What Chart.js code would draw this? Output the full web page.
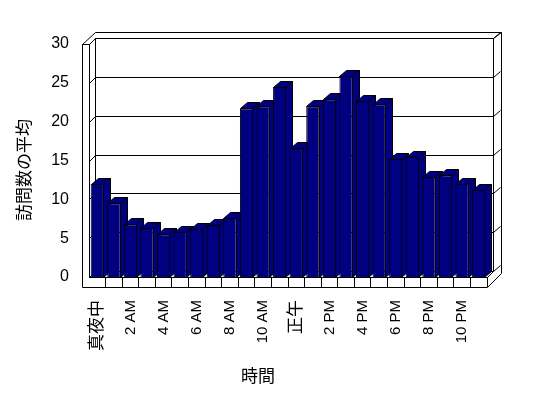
<!DOCTYPE html>
<html><head><meta charset="utf-8">
<script src="https://cdn.jsdelivr.net/npm/chart.js@4/dist/chart.umd.min.js"></script>
<style>html,body{margin:0;padding:0;background:#fff}canvas{display:block}</style>
</head><body>
<canvas id="c" width="548" height="398"></canvas>
<script>
const categories = ['真夜中','1 AM','2 AM','3 AM','4 AM','5 AM','6 AM','7 AM','8 AM','9 AM','10 AM','11 AM',
  '正午','1 PM','2 PM','3 PM','4 PM','5 PM','6 PM','7 PM','8 PM','9 PM','10 PM','11 PM'];
const visits = [12.0, 9.5, 6.8, 6.3, 5.5, 5.8, 6.2, 6.7, 7.6, 21.7, 22.0, 24.45,
  16.6, 22.0, 22.9, 25.9, 22.65, 22.25, 15.2, 15.45, 12.9, 13.1, 12.0, 11.2];
const yTicks = [0, 5, 10, 15, 20, 25, 30];
const xTitle = '時間';
const yTitle = '訪問数の平均';

const BAR = '#000080';
const LAT = '"Liberation Sans", "Noto Sans CJK JP", sans-serif';
const CJK = '"Noto Sans CJK JP", sans-serif';
const DX = 7, DY = -6;

function px(v){ return Math.round(v) + 0.5; }
function line(ctx, pts){
  ctx.beginPath();
  pts.forEach(([x,y],i)=>{ i ? ctx.lineTo(px(x),px(y)) : ctx.moveTo(px(x),px(y)); });
  ctx.stroke();
}
function poly(ctx, pts){
  ctx.beginPath();
  pts.forEach(([x,y],i)=>{ i ? ctx.lineTo(px(x),px(y)) : ctx.moveTo(px(x),px(y)); });
  ctx.closePath();
  ctx.fill();
  ctx.stroke();
}

const frame3d = {
  id: 'frame3d',
  beforeDatasetsDraw(chart){
    const {ctx, chartArea: ca, scales: {y}} = chart;
    const L = ca.left, R = ca.right, T = ca.top, B = ca.bottom;
    ctx.save();
    ctx.strokeStyle = '#000';
    ctx.lineWidth = 1;
    // gridlines on left wall, back wall and right edge
    yTicks.forEach(v => {
      const yf = y.getPixelForValue(v);
      line(ctx, [[L, yf], [L+6, yf-6], [R+6, yf-6], [R+13, yf-12]]);
    });
    // left wall
    line(ctx, [[L-7, B+10], [L-7, T], [L, T], [L, B]]);
    line(ctx, [[L-7, T], [L+6, T-12], [R+14, T-12], [R+14, B-4]]);
    line(ctx, [[L, T], [L+6, T-6], [L+6, B-6]]);
    line(ctx, [[R+6, T-6], [R+14, T-12]]);
    line(ctx, [[R+6, T-6], [R+6, B-6]]);
    // floor
    line(ctx, [[L-7, B+10], [R, B+10], [R+14, B-4]]);
    line(ctx, [[R, B], [R+6, B-6]]);
    // bar depth faces
    const meta = chart.getDatasetMeta(0);
    ctx.fillStyle = BAR;
    meta.data.forEach(bar => {
      const p = bar.getProps(['x','y','base','width'], true);
      const l = p.x - p.width/2, r = p.x + p.width/2 - 1;
      poly(ctx, [[l, p.y], [l+DX, p.y+DY], [r+DX, p.y+DY], [r, p.y]]);
      poly(ctx, [[r, p.y], [r+DX, p.y+DY], [r+DX, p.base+DY], [r, p.base]]);
    });
    ctx.restore();
  },
  afterDraw(chart){
    const {ctx} = chart;
    ctx.save();
    ctx.fillStyle = '#000';
    ctx.font = '17px ' + CJK;
    ctx.textAlign = 'center';
    ctx.textBaseline = 'middle';
    ctx.fillText(xTitle, 258, 376);
    ctx.translate(24, 170);
    ctx.rotate(-Math.PI/2);
    ctx.fillText(yTitle, 0, 0);
    ctx.restore();
  }
};

new Chart(document.getElementById('c'), {
  type: 'bar',
  data: {
    labels: categories,
    datasets: [{
      data: visits,
      backgroundColor: BAR,
      borderColor: '#000',
      borderWidth: 1,
      barPercentage: 0.8,
      categoryPercentage: 1.0
    }]
  },
  options: {
    responsive: false,
    animation: false,
    events: [],
    layout: { padding: { top: 44, right: 61, bottom: 0, left: 0 } },
    plugins: { legend: { display: false }, tooltip: { enabled: false } },
    scales: {
      x: {
        offset: true,
        grid: {
          offset: true,
          drawOnChartArea: false,
          drawTicks: true,
          tickLength: 10,
          color: ctx => ctx.index === 0 ? 'rgba(0,0,0,0)' : '#000'
        },
        border: { display: true, color: '#000' },
        ticks: {
          autoSkip: false,
          maxRotation: 90,
          minRotation: 90,
          padding: 13,
          color: '#000',
          font: ctx => ({ family: LAT, size: /[^\x00-\x7F]/.test(categories[ctx.index] || '') ? 17 : 15 }),
          callback: (v, i) => i % 2 === 0 ? categories[i] : ''
        },
        afterFit: s => { s.height = 121; }
      },
      y: {
        min: 0,
        max: 30,
        grid: { display: false, drawTicks: false },
        border: { display: false },
        ticks: {
          stepSize: 5,
          padding: 20,
          color: '#000',
          font: { family: LAT, size: 16 }
        },
        afterFit: s => { s.width = 89; }
      }
    }
  },
  plugins: [frame3d]
});
</script>
</body></html>
